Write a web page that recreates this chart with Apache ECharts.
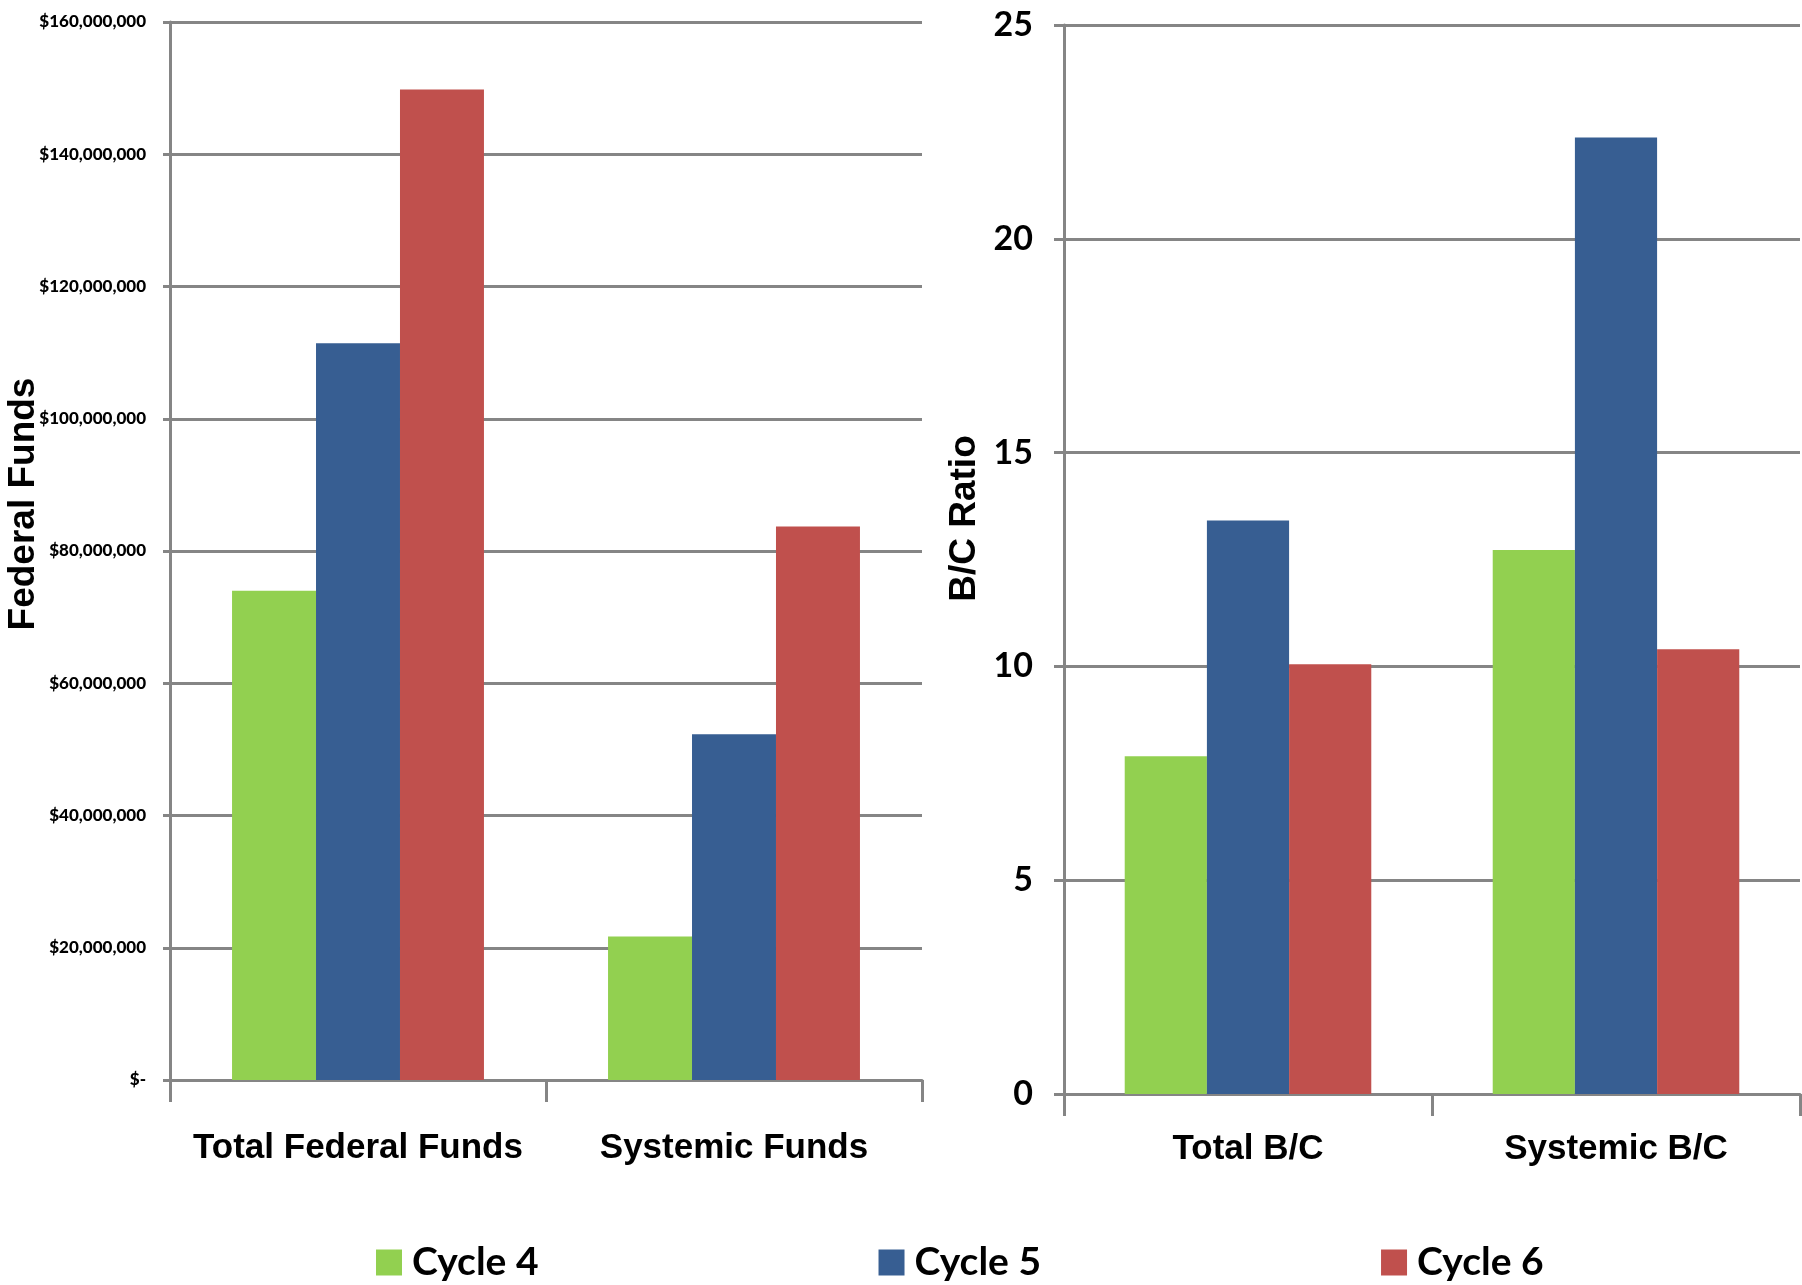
<!DOCTYPE html>
<html>
<head>
<meta charset="utf-8">
<script src="https://cdn.jsdelivr.net/npm/echarts@6/dist/echarts.min.js"></script>
<style>
html,body{margin:0;padding:0;background:#fff;}
#chart{width:1802px;height:1285px;}
</style>
</head>
<body>
<div id="chart"></div>
<script>
// ---- data ----
var fundCategories = ["Total Federal Funds", "Systemic Funds"];
var ratioCategories = ["Total B/C", "Systemic B/C"];
var seriesNames = ["Cycle 4", "Cycle 5", "Cycle 6"];
var fundsCycle4 = [74000000, 21700000];
var fundsCycle5 = [111400000, 52300000];
var fundsCycle6 = [149800000, 83700000];
var ratioCycle4 = [7.9, 12.72];
var ratioCycle5 = [13.41, 22.37];
var ratioCycle6 = [10.05, 10.4];
var fundTickLabels = ["$-", "$20,000,000", "$40,000,000", "$60,000,000", "$80,000,000",
  "$100,000,000", "$120,000,000", "$140,000,000", "$160,000,000"];
var ratioTickLabels = ["0", "5", "10", "15", "20", "25"];

var colors = ["#92D050", "#375E92", "#C0504D"];
var gridGray = "#858585";
var calib = "Lato,'Liberation Sans',sans-serif";
var sans = "'Liberation Sans',Arial,sans-serif";

var chart = echarts.init(document.getElementById('chart'));

function catAxis(idx, data, margin) {
  return {
    type: 'category', gridIndex: idx, data: data,
    axisLine: {lineStyle: {color: gridGray, width: 3}},
    axisTick: {show: true, length: 22, lineStyle: {color: gridGray, width: 3}},
    axisLabel: {color: '#000', fontFamily: sans, fontWeight: 'bold', fontSize: 35, margin: margin, interval: 0}
  };
}

var option = {
  animation: false,
  backgroundColor: '#fff',
  color: colors,
  legend: {
    data: seriesNames,
    left: 371, top: 1238,
    icon: 'rect', itemWidth: 26, itemHeight: 26, itemGap: 340,
    textStyle: {color: '#000', fontFamily: calib, fontWeight: 'bold', fontSize: 39, padding: [0, 0, 0, 5]}
  },
  grid: [
    {left: 170, right: 880, top: 22, bottom: 205, outerBoundsMode: 'none', containLabel: false},
    {left: 1064, right: 2, top: 25, bottom: 191, outerBoundsMode: 'none', containLabel: false}
  ],
  xAxis: [catAxis(0, fundCategories, 51), catAxis(1, ratioCategories, 38)],
  yAxis: [
    {
      type: 'value', gridIndex: 0, min: 0, max: 160000000, interval: 20000000,
      name: 'Federal Funds', nameLocation: 'middle', nameGap: 128, nameRotate: 90, nameMoveOverlap: false,
      nameTextStyle: {color: '#000', fontFamily: sans, fontWeight: 'bold', fontSize: 37, padding: [0, 0, 0, 94]},
      axisLine: {show: true, lineStyle: {color: gridGray, width: 3}},
      axisTick: {show: true, length: 7, lineStyle: {color: gridGray, width: 3}},
      splitLine: {lineStyle: {color: gridGray, width: 3}},
      axisLabel: {
        color: '#000', fontFamily: calib, fontWeight: 900, fontSize: 17, margin: 24,
        formatter: function (v) { return fundTickLabels[Math.round(v / 20000000)]; }
      }
    },
    {
      type: 'value', gridIndex: 1, min: 0, max: 25, interval: 5,
      name: 'B/C Ratio', nameLocation: 'middle', nameGap: 81, nameRotate: 90,
      nameTextStyle: {color: '#000', fontFamily: sans, fontWeight: 'bold', fontSize: 37, padding: [0, 0, 0, 82]},
      axisLine: {show: true, lineStyle: {color: gridGray, width: 3}},
      axisTick: {show: true, length: 10, lineStyle: {color: gridGray, width: 3}},
      splitLine: {lineStyle: {color: gridGray, width: 3}},
      axisLabel: {
        color: '#000', fontFamily: calib, fontWeight: 'bold', fontSize: 34, margin: 31,
        formatter: function (v) { return ratioTickLabels[Math.round(v / 5)]; }
      }
    }
  ],
  series: [
    {name: seriesNames[0], type: 'bar', xAxisIndex: 0, yAxisIndex: 0, data: fundsCycle4, barGap: '0%', barCategoryGap: '33%'},
    {name: seriesNames[1], type: 'bar', xAxisIndex: 0, yAxisIndex: 0, data: fundsCycle5, barGap: '0%', barCategoryGap: '33%'},
    {name: seriesNames[2], type: 'bar', xAxisIndex: 0, yAxisIndex: 0, data: fundsCycle6, barGap: '0%', barCategoryGap: '33%'},
    {name: seriesNames[0], type: 'bar', xAxisIndex: 1, yAxisIndex: 1, data: ratioCycle4, barGap: '0%', barCategoryGap: '33%'},
    {name: seriesNames[1], type: 'bar', xAxisIndex: 1, yAxisIndex: 1, data: ratioCycle5, barGap: '0%', barCategoryGap: '33%'},
    {name: seriesNames[2], type: 'bar', xAxisIndex: 1, yAxisIndex: 1, data: ratioCycle6, barGap: '0%', barCategoryGap: '33%'}
  ]
};
chart.setOption(option);
</script>
</body>
</html>
